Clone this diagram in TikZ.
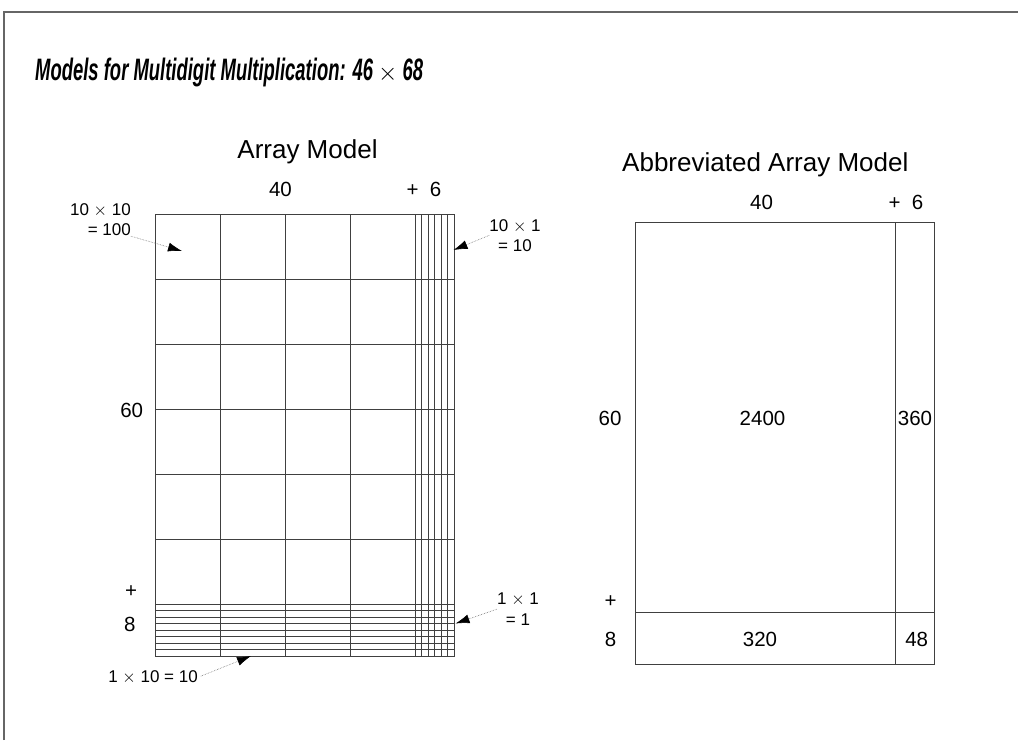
\documentclass[tikz,border=0pt]{standalone}
\usepackage{fontspec}
\setmainfont{Liberation Sans}
\newfontfamily\titlefont[FakeStretch=0.595]{Liberation Sans}
\usetikzlibrary{arrows.meta}

\begin{document}
\begin{tikzpicture}[x=1pt,y=-1pt,
 hd/.style={anchor=base,inner sep=0pt,font=\fontsize{26}{31}\selectfont},
 num/.style={anchor=base,inner sep=0pt,font=\fontsize{20.5}{24}\selectfont},
 note/.style={inner sep=0pt,font=\fontsize{17}{20.3}\selectfont},
 ln/.style={draw=black!75,line width=1pt},
 callout/.style={densely dotted,draw=black!55,line width=0.6pt,-{Latex[length=14pt,width=9pt,color=black]}}]
 \useasboundingbox (0,0) rectangle (1018,740);
 \draw[black!60,line width=1.5pt] (4,740) -- (4,12) -- (1018,12);
 \node[anchor=base west,inner sep=0pt,font=\titlefont\fontsize{31}{36}\selectfont\bfseries\itshape](title) at (35,80){Models for Multidigit Multiplication: 46 $\times$ 68};
 \begin{scope}[shift={(155,214)},x=6.5pt,y=-6.5pt]
  \foreach \c in {10,20,30,40,41,42,43,44,45} \draw[ln] (\c,0) -- (\c,68);
  \foreach \r in {10,20,30,40,50,60,61,62,63,64,65,66,67} \draw[ln] (0,\r) -- (46,\r);
  \draw[ln] (0,0) rectangle (46,68);
 \end{scope}
 \node[hd](arr) at (307.5,158){Array Model};
 \node[num](arrF) at (280.5,196){40};
 \node[num](arrS) at (424,196){+\hspace{0.55em}6};
 \node[num](arrT) at (131.7,417){60};
 \node[num](arrP) at (131,597){+};
 \node[num](arrE) at (129.7,631){8};
 \node[note,anchor=north east,align=right](n100) at (131,203.5){10 $\times$ 10\\= 100};
 \node[note,anchor=north,align=center](n10) at (515,219){10 $\times$ 1\\= 10};
 \node[note,anchor=north,align=center](n1) at (518,593){1 $\times$ 1\\= 1};
 \node[note,anchor=base east](n10b) at (198,682.5){1 $\times$ 10 = 10};
 \coordinate (tipA) at (182,251);
 \coordinate (tipB) at (453.5,250);
 \coordinate (tipC) at (455.5,623.5);
 \coordinate (tipD) at (251,656);
 \draw[callout] (n100.south east) -- (tipA);
 \draw[callout] (n10.west) -- (tipB);
 \draw[callout] (n1.west) -- (tipC);
 \draw[callout,shorten <=3pt] (n10b.east) -- (tipD);
 \begin{scope}[shift={(635,222)},x=6.5pt,y=-6.5pt]
  \draw[ln] (0,0) rectangle (46,68);
  \draw[ln] (40,0) -- (40,68);
  \draw[ln] (0,60) -- (46,60);
 \end{scope}
 \node[hd](abr) at (765.3,171){Abbreviated Array Model};
 \node[num](abrF) at (761.5,209){40};
 \node[num](abrS) at (906,209){+\hspace{0.55em}6};
 \node[num](abrT) at (610,425){60};
 \node[num](abrP) at (610.5,607){+};
 \node[num](abrE) at (610.5,646){8};
 \node[num](pA) at (762.5,425){2400};
 \node[num](pB) at (915,425){360};
 \node[num](pC) at (760,646){320};
 \node[num](pD) at (916.7,646){48};
\end{tikzpicture}
\end{document}
